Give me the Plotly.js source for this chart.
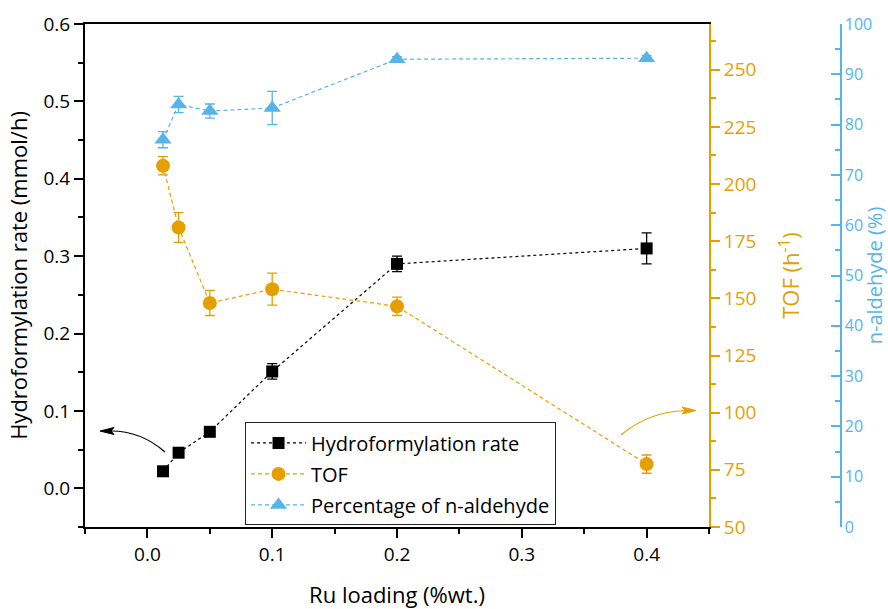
<!DOCTYPE html>
<html>
<head>
<meta charset="utf-8">
<script src="https://cdn.plot.ly/plotly-3.0.1.min.js"></script>
<style>html,body{margin:0;padding:0;background:#fff;}#chart{width:888px;height:609px;}</style>
</head>
<body>
<div id="chart"></div>
<script>
// ---- data ----
const ruLoading = [0.0125, 0.025, 0.05, 0.1, 0.2, 0.4];
const rate      = [0.022, 0.046, 0.073, 0.151, 0.290, 0.310];
const rateErr   = [0.003, 0.003, 0.003, 0.010, 0.010, 0.020];
const tof       = [208, 181, 148, 154, 146.5, 77.5];
const tofErr    = [4, 6.5, 5.5, 7, 4, 4];
const nAld      = [77, 84, 82.7, 83.3, 93.0, 93.2];
const nAldErr   = [1.6, 1.6, 1.4, 3.3, 0.5, 0.5];
const seriesNames = ['Hydroformylation rate', 'TOF', 'Percentage of n-aldehyde'];

const BLACK = '#000000', ORANGE = '#E69F00', BLUE = '#56B4E9';
const FONT = 'Open Sans, Noto Sans, sans-serif';

// plot geometry (pixels) used only to place the decorative curved arrows
const M = {l: 85, r: 28, t: 24, b: 82};
const XR = [-0.05, 0.45], YR = [-0.05, 0.6];
const X_DOMAIN_END = 0.8052;
const plotW = (888 - M.l - M.r) * X_DOMAIN_END, plotH = 609 - M.t - M.b;
const px2x = (px) => XR[0] + (px - M.l) / plotW * (XR[1] - XR[0]);
const py2y = (py) => YR[1] - (py - M.t) / plotH * (YR[1] - YR[0]);
const pt = (px, py) => px2x(px).toFixed(5) + ',' + py2y(py).toFixed(5);

const traces = [
  {x: ruLoading, y: rate, name: seriesNames[0], type: 'scatter', mode: 'lines+markers',
   yaxis: 'y', legendgroup: 'a',
   line: {color: BLACK, width: 1.2, dash: '3px,3px'},
   marker: {symbol: 'square', size: 12, color: BLACK},
   error_y: {type: 'data', array: rateErr, visible: true, color: BLACK, thickness: 1.3, width: 5}},
  {x: ruLoading, y: tof, name: seriesNames[1], type: 'scatter', mode: 'lines+markers',
   yaxis: 'y2', legendgroup: 'b',
   line: {color: ORANGE, width: 1.2, dash: '4px,3px'},
   marker: {symbol: 'circle', size: 14, color: ORANGE},
   error_y: {type: 'data', array: tofErr, visible: true, color: ORANGE, thickness: 1.3, width: 5}},
  {x: ruLoading, y: nAld, name: seriesNames[2], type: 'scatter', mode: 'lines+markers',
   yaxis: 'y3', legendgroup: 'c',
   line: {color: BLUE, width: 1.2, dash: '4px,3px'},
   marker: {symbol: 'triangle-up', size: 15, color: BLUE},
   error_y: {type: 'data', array: nAldErr, visible: true, color: BLUE, thickness: 1.3, width: 5}}
];

const tickFont = (c, s) => ({family: FONT, size: s || 19, color: c});
const titleFont = (c, s) => ({family: FONT, size: s || 22, color: c});

const layout = {
  width: 888, height: 609,
  margin: M,
  paper_bgcolor: '#fff', plot_bgcolor: '#fff',
  font: {family: FONT, color: BLACK},
  showlegend: true,
  legend: {x: 0.2065, y: 0.208, xanchor: 'left', yanchor: 'top',
           bordercolor: '#222', borderwidth: 1, bgcolor: '#fff',
           font: {family: FONT, size: 20, color: BLACK}, tracegroupgap: 2,
           itemwidth: 55},
  xaxis: {domain: [0, X_DOMAIN_END], range: XR, tick0: 0, dtick: 0.1, tickformat: '.1f',
          showline: true, linecolor: BLACK, linewidth: 2, mirror: true,
          ticks: 'outside', ticklen: 9, tickwidth: 2, tickcolor: BLACK,
          minor: {dtick: 0.05, ticks: 'outside', ticklen: 5, tickwidth: 2, tickcolor: BLACK},
          showgrid: false, zeroline: false, tickfont: tickFont(BLACK),
          title: {text: 'Ru loading (%wt.)', font: titleFont(BLACK), standoff: 24}},
  yaxis: {range: YR, tick0: 0, dtick: 0.1, tickformat: '.1f',
          showline: true, linecolor: BLACK, linewidth: 2,
          ticks: 'outside', ticklen: 9, tickwidth: 2, tickcolor: BLACK,
          minor: {dtick: 0.05, ticks: 'outside', ticklen: 5, tickwidth: 2, tickcolor: BLACK},
          showgrid: false, zeroline: false, tickfont: tickFont(BLACK),
          title: {text: 'Hydroformylation rate (mmol/h)', font: titleFont(BLACK), standoff: 10}},
  yaxis2: {overlaying: 'y', side: 'right', anchor: 'x', range: [50, 270], tick0: 0, dtick: 25,
           showline: true, linecolor: ORANGE, linewidth: 2,
           ticks: 'outside', ticklen: 9, tickwidth: 2, tickcolor: ORANGE,
           minor: {dtick: 12.5, ticks: 'outside', ticklen: 5, tickwidth: 2, tickcolor: ORANGE},
           showgrid: false, zeroline: false, tickfont: tickFont(ORANGE),
           title: {text: 'TOF (h<sup>-1</sup>)', font: titleFont(ORANGE), standoff: 28}},
  yaxis3: {overlaying: 'y', side: 'right', anchor: 'free', position: 0.975, range: [0, 100], tick0: 0, dtick: 10,
           showline: true, linecolor: BLUE, linewidth: 2,
           ticks: 'inside', ticklen: 9, tickwidth: 2, tickcolor: BLUE,
           minor: {dtick: 5, ticks: 'inside', ticklen: 5, tickwidth: 2, tickcolor: BLUE},
           showgrid: false, zeroline: false, tickfont: tickFont(BLUE, 16),
           title: {text: 'n-aldehyde (%)', font: titleFont(BLUE, 20), standoff: 14}},
  shapes: [
    // black curved arrow (points to left axis)
    {type: 'path', xref: 'x', yref: 'y', layer: 'above',
     path: 'M ' + pt(165, 452) + ' Q ' + pt(141, 431) + ' ' + pt(111, 431),
     line: {color: BLACK, width: 1.2}},
    {type: 'path', xref: 'x', yref: 'y', layer: 'above',
     path: 'M ' + pt(100, 431) + ' L ' + pt(114, 427.5) + ' L ' + pt(111, 431) + ' L ' + pt(114, 434.5) + ' Z',
     line: {color: BLACK, width: 1}, fillcolor: BLACK},
    // orange curved arrow (points to TOF axis)
    {type: 'path', xref: 'x', yref: 'y', layer: 'above',
     path: 'M ' + pt(621, 435) + ' Q ' + pt(648, 412) + ' ' + pt(685, 410.5),
     line: {color: ORANGE, width: 1.2}},
    {type: 'path', xref: 'x', yref: 'y', layer: 'above',
     path: 'M ' + pt(696, 410.5) + ' L ' + pt(682, 407) + ' L ' + pt(685, 410.5) + ' L ' + pt(682, 414) + ' Z',
     line: {color: ORANGE, width: 1}, fillcolor: ORANGE}
  ]
};

Plotly.newPlot('chart', traces, layout, {displayModeBar: false, staticPlot: true});
</script>
</body>
</html>
